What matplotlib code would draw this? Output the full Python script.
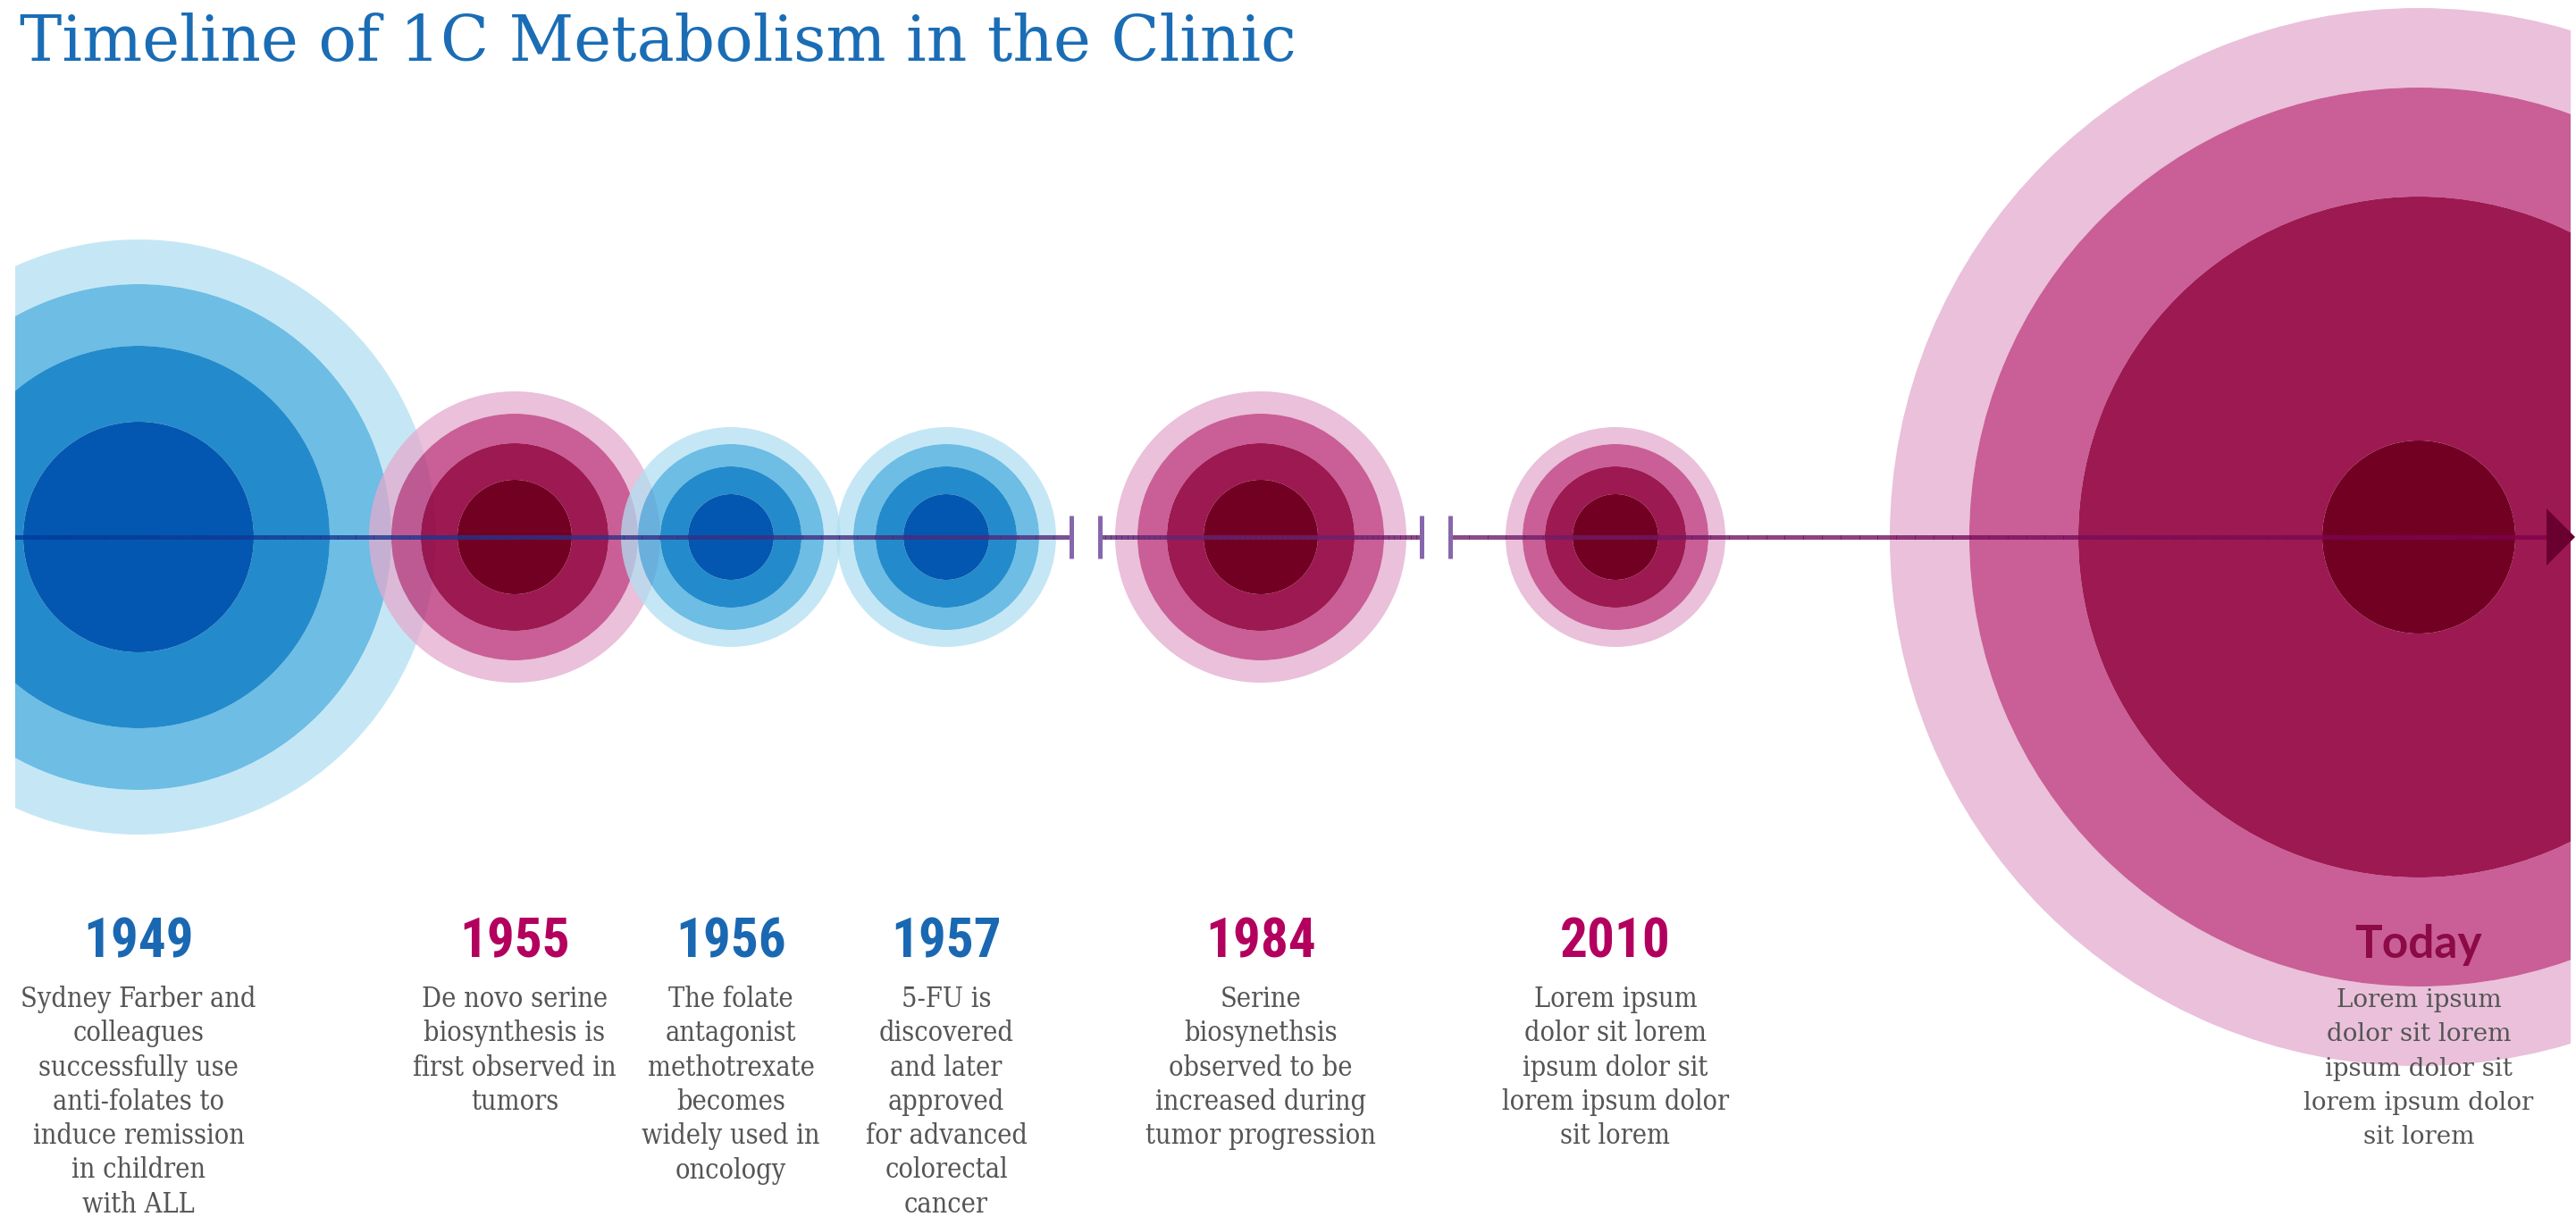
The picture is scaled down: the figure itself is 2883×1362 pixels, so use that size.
import numpy as np
import matplotlib.pyplot as plt
from matplotlib import font_manager
from matplotlib.patches import Wedge, Rectangle, Polygon
from matplotlib.collections import LineCollection
from matplotlib.colors import to_rgb, LinearSegmentedColormap

# events on the timeline
years = ['1949', '1955', '1956', '1957', '1984', '2010', 'Today']
event_x = [155, 576, 818, 1059, 1411, 1808, 2707]
scheme = ['blue', 'pink', 'blue', 'blue', 'pink', 'pink', 'pink']
# radii of the concentric rings, outer -> inner
ring_radius = [
    [333, 283, 214, 129],
    [163, 138, 105, 64],
    [123, 104, 79, 48],
    [123, 104, 79, 48],
    [163, 138, 105, 64],
    [123, 104, 79, 48],
    [592, 503, 381, 108],
]
descriptions = [
    ['Sydney Farber and', 'colleagues', 'successfully use', 'anti-folates to',
     'induce remission', 'in children', 'with ALL'],
    ['De novo serine', 'biosynthesis is', 'first observed in', 'tumors'],
    ['The folate', 'antagonist', 'methotrexate', 'becomes', 'widely used in', 'oncology'],
    ['5-FU is', 'discovered', 'and later', 'approved', 'for advanced', 'colorectal', 'cancer'],
    ['Serine', 'biosynethsis', 'observed to be', 'increased during', 'tumor progression'],
    ['Lorem ipsum', 'dolor sit lorem', 'ipsum dolor sit', 'lorem ipsum dolor', 'sit lorem'],
    ['Lorem ipsum', 'dolor sit lorem', 'ipsum dolor sit', 'lorem ipsum dolor', 'sit lorem'],
]
breaks = [(1199, 1231), (1591, 1623)]

ring_colors = {
    'blue': ['#c5e7f5', '#6dbde5', '#238bcc', '#0457b0'],
    'pink': ['#ebc0da', '#c95f96', '#9e1952', '#720022'],
}
year_colors = {'blue': '#1a68b2', 'pink': '#b3005e'}
ring_alpha = [0.75, 0.8, 0.9, 1.0]

# pick a narrow sans for the year labels if one is installed
installed = font_manager.fontManager.ttflist
year_font = dict(family='DejaVu Sans', stretch='condensed', fontsize=40)
for name in ['Liberation Sans Narrow', 'Roboto Condensed', 'Noto Sans Condensed',
             'Open Sans Condensed', 'Arial Narrow']:
    if any(f.name == name for f in installed):
        year_font = dict(family=name, fontsize=44)
        break
else:
    for f in installed:
        if f.name in ('Noto Sans', 'Roboto', 'Open Sans') and f.stretch == 'condensed':
            year_font = dict(family=f.name, stretch='condensed', fontsize=44)
            break


def see_through(color, a):
    # base colour that gives `color` when drawn with alpha a on white
    c = 1 - (1 - np.array(to_rgb(color))) / a
    return tuple(np.clip(c, 0, 1))


W, H = 2883, 1362
Y0 = 601
fig = plt.figure(figsize=(W / 100, H / 100), dpi=100)
ax = fig.add_axes([0, 0, 1, 1])
ax.set_xlim(0, W)
ax.set_ylim(H, 0)
ax.axis('off')

clip = Rectangle((17, -10), 2860, H + 20, transform=ax.transData)

for k in range(len(years)):
    radii = ring_radius[k]
    cols = ring_colors[scheme[k]]
    for i in range(len(radii)):
        r = radii[i]
        width = r - radii[i + 1] if i + 1 < len(radii) else r
        w = Wedge((event_x[k], Y0), r, 0, 360, width=width,
                  facecolor=see_through(cols[i], ring_alpha[i]),
                  alpha=ring_alpha[i], edgecolor='none', zorder=1 + k)
        ax.add_patch(w)
        w.set_clip_path(clip)

# timeline with gradient colour
cmap = LinearSegmentedColormap.from_list('tl', ['#003c9a', '#69236f', '#80004d'])
x_end = 2850
edges = [17] + [v for b in breaks for v in b] + [x_end]
for a, b in zip(edges[0::2], edges[1::2]):
    xs = np.linspace(a, b, 60)
    pts = np.array([xs, np.full_like(xs, Y0)]).T.reshape(-1, 1, 2)
    segs = np.concatenate([pts[:-1], pts[1:]], axis=1)
    lc = LineCollection(segs, colors=cmap((xs[:-1] - 17) / (x_end - 17)),
                        linewidths=3.6, alpha=0.8, zorder=20, capstyle='butt',
                        antialiaseds=False)
    ax.add_collection(lc)
for b in breaks:
    ax.vlines(b, Y0 - 24, Y0 + 24, color='#8766ad', lw=3.6, zorder=21)
ax.add_patch(Polygon([[x_end, Y0 - 32], [W - 1, Y0], [x_end, Y0 + 32]],
                     closed=True, facecolor='#6a0030', edgecolor='none', zorder=21))

# title
ax.text(22, 68, 'Timeline of 1C Metabolism in the Clinic', fontsize=51,
        family='DejaVu Serif', color='#1a6db5',
        va='baseline', ha='left', zorder=30)

# labels
for k in range(len(years)):
    if years[k] == 'Today':
        ax.text(event_x[k], 1072, years[k], fontsize=37, family='Lato', weight='bold',
                color='#8c0a45', ha='center', va='baseline', zorder=30)
        body_font = dict(family='DejaVu Serif', fontsize=20)
    else:
        ax.text(event_x[k], 1072, years[k], weight='bold',
                color=year_colors[scheme[k]], ha='center', va='baseline', zorder=30,
                **year_font)
        body_font = dict(family='DejaVu Serif', stretch='condensed', fontsize=22)
    for j, line in enumerate(descriptions[k]):
        ax.text(event_x[k], 1127 + 38.3 * j, line, color='#555555', ha='center',
                va='baseline', zorder=30, **body_font)

fig.savefig('out.png', dpi=100)
